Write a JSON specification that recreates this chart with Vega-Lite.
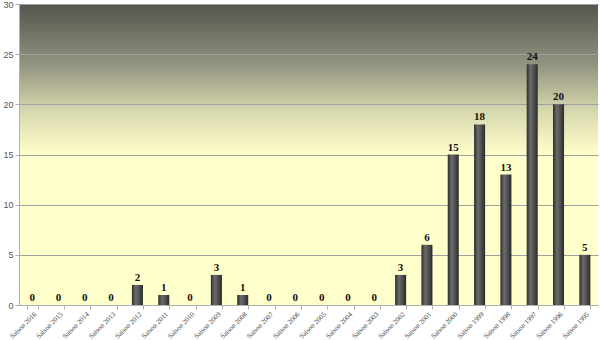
{
  "$schema": "https://vega.github.io/schema/vega-lite/v6.json",
  "width": 600,
  "height": 340,
  "autosize": {"type": "fit", "contains": "padding"},
  "padding": {"left": 2, "top": 0, "right": 2, "bottom": 0},
  "background": "#ffffff",
  "config": {
    "view": {
      "stroke": null,
      "fill": {
        "gradient": "linear", "x1": 0, "y1": 0, "x2": 0, "y2": 1,
        "stops": [
          {"offset": 0, "color": "#54554d"},
          {"offset": 0.2, "color": "#92937f"},
          {"offset": 0.36, "color": "#d9d9b0"},
          {"offset": 0.5, "color": "#ffffcc"},
          {"offset": 1, "color": "#ffffcc"}
        ]
      }
    }
  },
  "data": {
    "values": [
      {"saison": "Saison 2016", "n": 0},
      {"saison": "Saison 2015", "n": 0},
      {"saison": "Saison 2014", "n": 0},
      {"saison": "Saison 2013", "n": 0},
      {"saison": "Saison 2012", "n": 2},
      {"saison": "Saison 2011", "n": 1},
      {"saison": "Saison 2010", "n": 0},
      {"saison": "Saison 2009", "n": 3},
      {"saison": "Saison 2008", "n": 1},
      {"saison": "Saison 2007", "n": 0},
      {"saison": "Saison 2006", "n": 0},
      {"saison": "Saison 2005", "n": 0},
      {"saison": "Saison 2004", "n": 0},
      {"saison": "Saison 2003", "n": 0},
      {"saison": "Saison 2002", "n": 3},
      {"saison": "Saison 2001", "n": 6},
      {"saison": "Saison 2000", "n": 15},
      {"saison": "Saison 1999", "n": 18},
      {"saison": "Saison 1998", "n": 13},
      {"saison": "Saison 1997", "n": 24},
      {"saison": "Saison 1996", "n": 20},
      {"saison": "Saison 1995", "n": 5}
    ]
  },
  "encoding": {
    "x": {
      "field": "saison", "type": "nominal", "sort": null,
      "scale": {"paddingInner": 0.58, "paddingOuter": 0.29},
      "axis": {
        "title": null, "labelAngle": -45, "labelFont": "Liberation Serif",
        "labelFontSize": 7, "labelColor": "#444444", "labelAlign": "right",
        "labelBaseline": "top", "labelPadding": 1,
        "domain": true, "domainColor": "#b0b0b0", "tickColor": "#b0b0b0",
        "tickSize": 4, "tickBand": "extent", "grid": false
      }
    },
    "y": {
      "field": "n", "type": "quantitative",
      "scale": {"domain": [0, 30], "nice": false},
      "axis": {
        "title": null, "values": [0, 5, 10, 15, 20, 25, 30],
        "labelFont": "Liberation Sans", "labelFontSize": 9, "labelColor": "#555555",
        "domainColor": "#b0b0b0", "tickColor": "#b0b0b0", "tickSize": 4,
        "gridColor": "#a0a0a0", "gridOpacity": 1, "gridWidth": 1, "labelPadding": 2
      }
    }
  },
  "layer": [
    {
      "mark": {
        "type": "bar",
        "fill": {
          "gradient": "linear", "x1": 0, "y1": 0, "x2": 1, "y2": 0,
          "stops": [
            {"offset": 0, "color": "#2e2e2e"},
            {"offset": 0.35, "color": "#6b6b6b"},
            {"offset": 0.6, "color": "#555555"},
            {"offset": 1, "color": "#2a2a2a"}
          ]
        }
      }
    },
    {
      "mark": {
        "type": "text", "dy": -7, "font": "Liberation Serif",
        "fontWeight": "bold", "fontSize": 11, "fill": "#111111"
      },
      "encoding": {"text": {"field": "n", "type": "quantitative"}}
    }
  ]
}
